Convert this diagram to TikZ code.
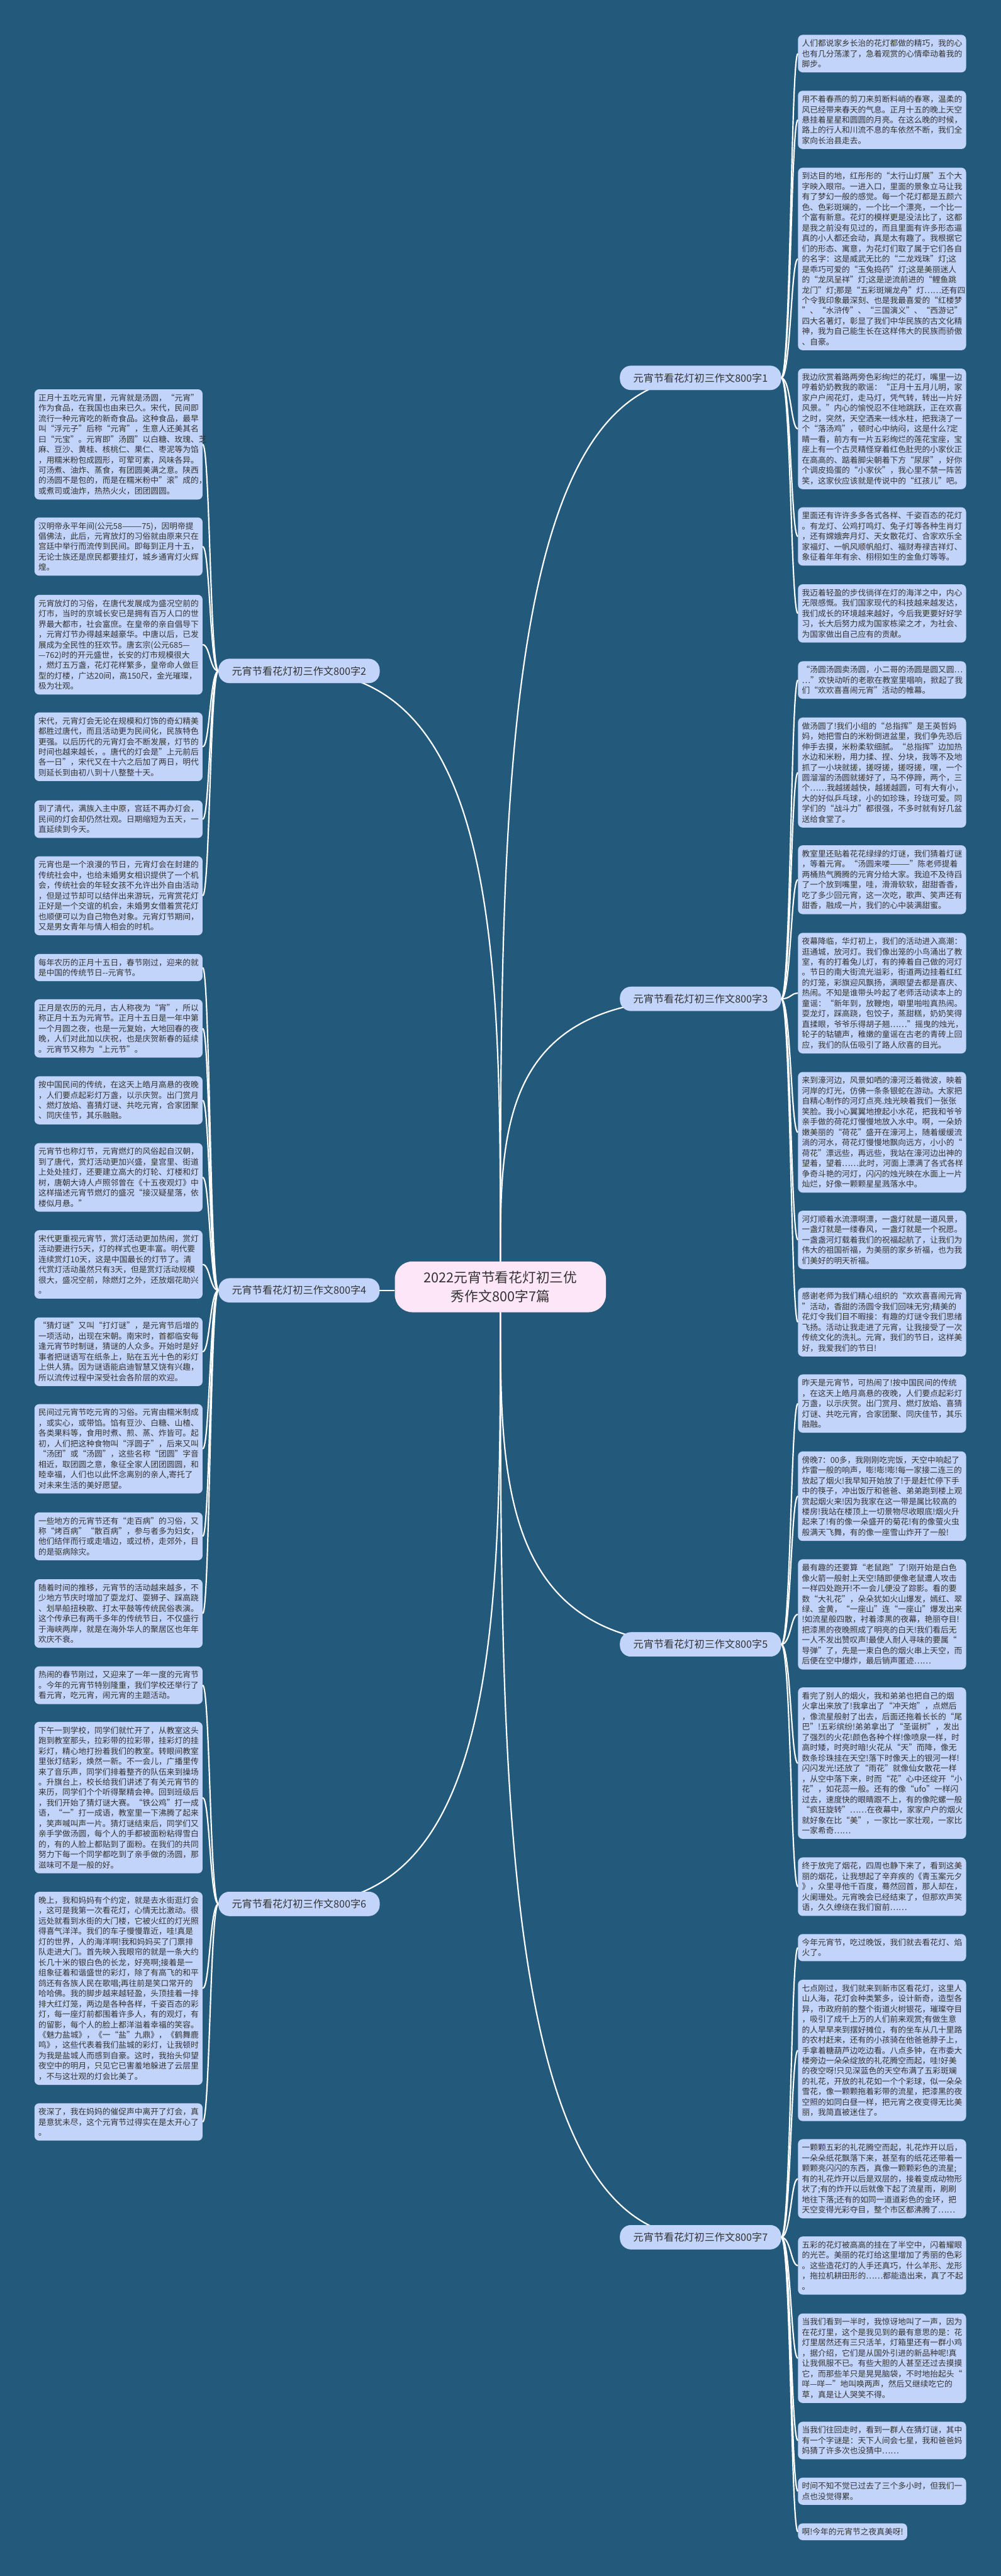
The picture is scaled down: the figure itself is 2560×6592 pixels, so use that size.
\documentclass[tikz,border=0pt]{standalone}
\usepackage{fontspec}
\setmainfont{Noto Sans CJK SC}
\usetikzlibrary{calc}
\definecolor{bgc}{HTML}{235A7C}
\definecolor{leafc}{HTML}{C2D4FA}
\definecolor{textc}{HTML}{333333}
\definecolor{centerc}{HTML}{FDE6F8}
\tikzset{
 leaf/.style={fill=leafc, rounded corners=12pt, inner xsep=10pt, inner ysep=12pt, text width=410pt, align=left, anchor=north west, text=textc, font=\fontsize{20.5}{26.5}\selectfont},
 shortleaf/.style={fill=leafc, rounded corners=12pt, inner xsep=10pt, inner ysep=12pt, anchor=north west, text=textc, font=\fontsize{20.5}{26.5}\selectfont},
 branch/.style={fill=leafc, rounded corners=28pt, minimum width=412pt, minimum height=62pt, text=textc, font=\fontsize{26}{30}\selectfont},
 centre/.style={fill=centerc, rounded corners=45pt, minimum width=540pt, minimum height=130pt, align=center, text=textc, font=\fontsize{35}{47}\selectfont},
 conn/.style={draw=white, line width=3.5pt}
}
\begin{document}
\begin{tikzpicture}[x=1pt,y=-1pt]
\useasboundingbox (0,0) rectangle (2560,6592);
\fill[bgc] (0,0) rectangle (2560,6592);
\coordinate (tR) at (2023,0);
\coordinate (tL) at (537,0);

\node[centre] (c) at (1280,3293) {2022元宵节看花灯初三优\\秀作文800字7篇};
\node[branch] (b1) at (1792,967) {元宵节看花灯初三作文800字1};
\node[branch] (b2) at (765,1717) {元宵节看花灯初三作文800字2};
\node[branch] (b3) at (1792,2556) {元宵节看花灯初三作文800字3};
\node[branch] (b4) at (765,3302) {元宵节看花灯初三作文800字4};
\node[branch] (b5) at (1792,4208) {元宵节看花灯初三作文800字5};
\node[branch] (b6) at (765,4872) {元宵节看花灯初三作文800字6};
\node[branch] (b7) at (1792,5725) {元宵节看花灯初三作文800字7};

% right leaves
\node[leaf] (r1) at (2041,89) {人们都说家乡长治的花灯都做的精巧，我的心\\也有几分荡漾了，急着观赏的心情牵动着我的\\脚步。};
\node[leaf] (r2) at (2041,232) {用不着春燕的剪刀来剪断料峭的春寒，温柔的\\风已经带来春天的气息。正月十五的晚上天空\\悬挂着星星和圆圆的月亮。在这么晚的时候，\\路上的行人和川流不息的车依然不断，我们全\\家向长治县走去。};
\node[leaf] (r3) at (2041,429) {到达目的地，红彤彤的“太行山灯展”五个大\\字映入眼帘。一进入口，里面的景象立马让我\\有了梦幻一般的感觉。每一个花灯都是五颜六\\色、色彩斑斓的，一个比一个漂亮，一个比一\\个富有新意。花灯的模样更是没法比了，这都\\是我之前没有见过的，而且里面有许多形态逼\\真的小人都还会动，真是太有趣了。我根据它\\们的形态、寓意，为花灯们取了属于它们各自\\的名字：这是威武无比的“二龙戏珠”灯;这\\是乖巧可爱的“玉兔捣药”灯;这是美丽迷人\\的“龙凤呈祥”灯;这是逆流前进的“鲤鱼跳\\龙门”灯;那是“五彩斑斓龙舟”灯……还有四\\个令我印象最深刻、也是我最喜爱的“红楼梦\\”、“水浒传”、“三国演义”、“西游记”\\四大名著灯，彰显了我们中华民族的古文化精\\神，我为自己能生长在这样伟大的民族而骄傲\\、自豪。};
\node[leaf] (r4) at (2041,943) {我边欣赏着路两旁色彩绚烂的花灯，嘴里一边\\哼着奶奶教我的歌谣：“正月十五月儿明，家\\家户户闹花灯，走马灯，凭气转，转出一片好\\风景。”内心的愉悦忍不住地跳跃，正在欢喜\\之时，突然，天空洒来一线水柱，把我浇了一\\个“落汤鸡”，顿时心中纳闷，这是什么?定\\睛一看，前方有一片五彩绚烂的莲花宝座，宝\\座上有一个古灵精怪穿着红色肚兜的小家伙正\\在高高的、踮着脚尖朝着下方“尿尿”，好你\\个调皮捣蛋的“小家伙”，我心里不禁一阵苦\\笑，这家伙应该就是传说中的“红孩儿”吧。};
\node[leaf] (r5) at (2041,1298) {里面还有许许多多各式各样、千姿百态的花灯\\。有龙灯、公鸡打鸣灯、兔子灯等各种生肖灯\\，还有嫦娥奔月灯、天女散花灯、合家欢乐全\\家福灯、一帆风顺帆船灯、福财寿禄吉祥灯、\\象征着年年有余、栩栩如生的金鱼灯等等。};
\node[leaf] (r6) at (2041,1495) {我迈着轻盈的步伐徜徉在灯的海洋之中，内心\\无限感慨。我们国家现代的科技越来越发达，\\我们成长的环境越来越好，今后我更要好好学\\习，长大后努力成为国家栋梁之才，为社会、\\为国家做出自己应有的贡献。};
\node[leaf] (r7) at (2041,1692) {“汤圆汤圆卖汤圆，小二哥的汤圆是圆又圆…\\…”欢快动听的老歌在教室里唱响，掀起了我\\们“欢欢喜喜闹元宵”活动的帷幕。};
\node[leaf] (r8) at (2041,1836) {做汤圆了!我们小组的“总指挥”是王英哲妈\\妈，她把雪白的米粉倒进盆里，我们争先恐后\\伸手去摸，米粉柔软细腻。“总指挥”边加热\\水边和米粉，用力揉、捏、分块，我等不及地\\抓了一小块就搓，搓呀搓，搓呀搓，嘿，一个\\圆溜溜的汤圆就搓好了，马不停蹄，两个，三\\个……我越搓越快，越搓越圆，可有大有小，\\大的好似乒乓球，小的如珍珠，玲珑可爱。同\\学们的“战斗力”都很强，不多时就有好几盆\\送给食堂了。};
\node[leaf] (r9) at (2041,2163) {教室里还贴着花花绿绿的灯谜，我们猜着灯谜\\，等着元宵。“汤圆来喽———”陈老师提着\\两桶热气腾腾的元宵分给大家。我迫不及待舀\\了一个放到嘴里，哇，滑滑软软，甜甜香香，\\吃了多少回元宵，这一次吃，歌声、笑声还有\\甜香，融成一片，我们的心中装满甜蜜。};
\node[leaf] (r10) at (2041,2387) {夜幕降临，华灯初上，我们的活动进入高潮：\\逛通城，放河灯。我们像出笼的小鸟涌出了教\\室，有的打着兔儿灯，有的捧着自己做的河灯\\。节日的南大街流光溢彩，街道两边挂着红红\\的灯笼，彩旗迎风飘扬，满眼望去都是喜庆、\\热闹。不知是谁带头吟起了老师活动读本上的\\童谣：“新年到，放鞭炮，噼里啪啦真热闹。\\耍龙灯，踩高跷，包饺子，蒸甜糕，奶奶笑得\\直揉眼，爷爷乐得胡子翘……”摇曳的烛光，\\轮子的轱辘声，稚嫩的童谣在古老的青砖上回\\应，我们的队伍吸引了路人欣喜的目光。};
\node[leaf] (r11) at (2041,2743) {来到濠河边，风景如哂的濠河泛着微波，映着\\河岸的灯光，仿佛一条条银蛇在游动。大家把\\自精心制作的河灯点亮.烛光映着我们一张张\\笑脸。我小心翼翼地撩起小水花，把我和爷爷\\亲手做的荷花灯慢慢地放入水中。啊，一朵娇\\嫩美丽的“荷花”盛开在濠河上，随着缓缓流\\淌的河水，荷花灯慢慢地飘向远方，小小的“\\荷花”漂远些，再远些，我站在濠河边出神的\\望着，望着……此时，河面上漂满了各式各样\\争奇斗艳的河灯，闪闪的烛光映在水面上一片\\灿烂，好像一颗颗星星溅落水中。};
\node[leaf] (r12) at (2041,3098) {河灯顺着水流漂啊漂，一盏灯就是一道风景，\\一盏灯就是一缕春风，一盏灯就是一个祝愿。\\一盏盏河灯载着我们的祝福起航了，让我们为\\伟大的祖国祈福，为美丽的家乡祈福，也为我\\们美好的明天祈福。};
\node[leaf] (r13) at (2041,3295) {感谢老师为我们精心组织的“欢欢喜喜闹元宵\\”活动，香甜的汤圆令我们回味无穷;精美的\\花灯令我们目不暇接：有趣的灯谜令我们思绪\\飞扬。活动让我走进了元宵，让我接受了一次\\传统文化的洗礼。元宵，我们的节日，这样美\\好，我爱我们的节日!};
\node[leaf] (r14) at (2041,3517) {昨天是元宵节，可热闹了!按中国民间的传统\\，在这天上皓月高悬的夜晚，人们要点起彩灯\\万盏，以示庆贺。出门赏月、燃灯放焰、喜猜\\灯谜、共吃元宵，合家团聚、同庆佳节，其乐\\融融。};
\node[leaf] (r15) at (2041,3714) {傍晚7：00多，我刚刚吃完饭，天空中响起了\\炸雷一般的响声，嘭!嘭!嘭!每一家接二连三的\\放起了烟火!我早知开始放了!于是赶忙停下手\\中的筷子，冲出饭厅和爸爸、弟弟跑到楼上观\\赏起烟火来!因为我家在这一带是属比较高的\\楼房!我站在楼顶上一切景物尽收眼底!烟火升\\起来了!有的像一朵盛开的菊花!有的像萤火虫\\般满天飞舞，有的像一座雪山炸开了一般!};
\node[leaf] (r16) at (2041,3990) {最有趣的还要算“老鼠跑”了!刚开始是白色\\像火箭一般射上天空!随即便像老鼠遭人攻击\\一样四处跑开!不一会儿便没了踪影。看的要\\数“大礼花”，朵朵犹如火山爆发，嫣红、翠\\绿、金黄，“一座山”连“一座山”爆发出来\\!如流星般四散，衬着漆黑的夜幕，艳丽夺目!\\把漆黑的夜晚照成了明亮的白天!我们看后无\\一人不发出赞叹声!最使人耐人寻味的要属“\\导弹”了，先是一束白色的烟火串上天空，而\\后便在空中爆炸，最后销声匿迹……};
\node[leaf] (r17) at (2041,4318) {看完了别人的烟火，我和弟弟也把自己的烟\\火拿出来放了!我拿出了“冲天炮”，点燃后\\，像流星般射了出去，后面还拖着长长的“尾\\巴”!五彩缤纷!弟弟拿出了“圣诞树”，发出\\了强烈的火花!颜色各种个样!像喷泉一样，时\\高时矮，时亮时暗!火花从“天”而降，像无\\数条珍珠挂在天空!落下时像天上的银河一样!\\闪闪发光!还放了“雨花”就像仙女散花一样\\，从空中落下来，时而“花”心中还绽开“小\\花”，如花蕊一般。还有的像“ufo”一样闪\\过去，速度快的眼睛跟不上，有的像陀螺一般\\“疯狂旋转”……在夜幕中，家家户户的烟火\\就好象在比“美”，一家比一家壮观，一家比\\一家希奇……};
\node[leaf] (r18) at (2041,4753) {终于放完了烟花，四周也静下来了，看到这美\\丽的烟花，让我想起了辛弃疾的《青玉案元夕\\》，众里寻他千百度，蓦然回首，那人却在，\\火阑珊处。元宵晚会已经结束了，但那欢声笑\\语，久久缭绕在我们窗前……};
\node[leaf] (r19) at (2041,4949) {今年元宵节，吃过晚饭，我们就去看花灯、焰\\火了。};
\node[leaf] (r20) at (2041,5066) {七点刚过，我们就来到新市区看花灯，这里人\\山人海，花灯会种类繁多，设计新奇，造型各\\异，市政府前的整个街道火树银花，璀璨夺目\\，吸引了成千上万的人们前来观赏;有做生意\\的人早早来到摆好摊位，有的坐车从几十里路\\的农村赶来，还有的小孩骑在他爸爸脖子上，\\手拿着糖葫芦边吃边看。八点多钟，在市委大\\楼旁边一朵朵绽放的礼花腾空而起，哇!好美\\的夜空呀!只见深蓝色的天空布满了五彩斑斓\\的礼花，开放的礼花如一个个彩球，似一朵朵\\雪花，像一颗颗拖着彩带的流星，把漆黑的夜\\空照的如同白昼一样，把元宵之夜变得无比美\\丽，我简直被迷住了。};
\node[leaf] (r21) at (2041,5474) {一颗颗五彩的礼花腾空而起，礼花炸开以后，\\一朵朵纸花飘落下来，甚至有的纸花还带着一\\颗颗亮闪闪的东西，真像一颗颗彩色的流星;\\有的礼花炸开以后是双层的，接着变成动物形\\状了;有的炸开以后就像下起了流星雨，刷刷\\地往下落;还有的如同一道道彩色的金环，把\\天空变得光彩夺目，整个市区都沸腾了……};
\node[leaf] (r22) at (2041,5723) {五彩的花灯被高高的挂在了半空中，闪着耀眼\\的光芒。美丽的花灯给这里增加了秀丽的色彩\\。这些造花灯的人手还真巧，什么羊形、龙形\\，拖拉机耕田形的……都能造出来，真了不起\\。};
\node[leaf] (r23) at (2041,5920) {当我们看到一半时，我惊讶地叫了一声，因为\\在花灯里，这个是我见到的最有意思的是：花\\灯里居然还有三只活羊，灯箱里还有一群小鸡\\，据介绍，它们是从国外引进的新品种呢!真\\让我佩服不已。有些大胆的人甚至还过去摸摸\\它，而那些羊只是晃晃脑袋，不时地抬起头“\\咩—咩—”地叫唤两声，然后又继续吃它的\\草，真是让人哭笑不得。};
\node[leaf] (r24) at (2041,6197) {当我们往回走时，看到一群人在猜灯谜，其中\\有一个字谜是：天下人间会七星，我和爸爸妈\\妈猜了许多次也没猜中……};
\node[leaf] (r25) at (2041,6340) {时间不知不觉已过去了三个多小时，但我们一\\点也没觉得累。};
\node[shortleaf] (r26) at (2041,6457) {啊!今年的元宵节之夜真美呀!};

% left leaves
\node[leaf] (l1) at (88,996) {正月十五吃元宵里，元宵就是汤圆，“元宵”\\作为食品，在我国也由来已久。宋代，民间即\\流行一种元宵吃的新奇食品。这种食品，最早\\叫“浮元子”后称“元宵”，生意人还美其名\\曰“元宝”。元宵即"汤圆"以白糖、玫瑰、芝\\麻、豆沙、黄桂、核桃仁、果仁、枣泥等为馅\\，用糯米粉包成圆形，可荤可素，风味各异。\\可汤煮、油炸、蒸食，有团圆美满之意。陕西\\的汤圆不是包的，而是在糯米粉中"滚"成的，\\或煮司或油炸，热热火火，团团圆圆。};
\node[leaf] (l2) at (88,1324) {汉明帝永平年间(公元58———75)，因明帝提\\倡佛法，此后，元宵放灯的习俗就由原来只在\\宫廷中举行而流传到民间。即每到正月十五，\\无论士族还是庶民都要挂灯，城乡通宵灯火辉\\煌。};
\node[leaf] (l3) at (88,1522) {元宵放灯的习俗，在唐代发展成为盛况空前的\\灯市，当时的京城长安已是拥有百万人口的世\\界最大都市，社会富庶。在皇帝的亲自倡导下\\，元宵灯节办得越来越豪华。中唐以后，已发\\展成为全民性的狂欢节。唐玄宗(公元685—\\—762)时的开元盛世，长安的灯市规模很大\\，燃灯五万盏，花灯花样繁多，皇帝命人做巨\\型的灯楼，广达20间，高150尺，金光璀璨，\\极为壮观。};
\node[leaf] (l4) at (88,1823) {宋代，元宵灯会无论在规模和灯饰的奇幻精美\\都胜过唐代，而且活动更为民间化，民族特色\\更强。以后历代的元宵灯会不断发展，灯节的\\时间也越来越长，。唐代的灯会是"上元前后\\各一日"，宋代又在十六之后加了两日，明代\\则延长到由初八到十八整整十天。};
\node[leaf] (l5) at (88,2048) {到了清代，满族入主中原，宫廷不再办灯会，\\民间的灯会却仍然壮观。日期缩短为五天，一\\直延续到今天。};
\node[leaf] (l6) at (88,2191) {元宵也是一个浪漫的节日，元宵灯会在封建的\\传统社会中，也给未婚男女相识提供了一个机\\会，传统社会的年轻女孩不允许出外自由活动\\，但是过节却可以结伴出来游玩，元宵赏花灯\\正好是一个交谊的机会，未婚男女借着赏花灯\\也顺便可以为自己物色对象。元宵灯节期间，\\又是男女青年与情人相会的时机。};
\node[leaf] (l7) at (88,2441) {每年农历的正月十五日，春节刚过，迎来的就\\是中国的传统节日-{}-元宵节。};
\node[leaf] (l8) at (88,2557) {正月是农历的元月，古人称夜为“宵”，所以\\称正月十五为元宵节。正月十五日是一年中第\\一个月圆之夜，也是一元复始，大地回春的夜\\晚，人们对此加以庆祝，也是庆贺新春的延续\\。元宵节又称为“上元节”。};
\node[leaf] (l9) at (88,2754) {按中国民间的传统，在这天上皓月高悬的夜晚\\，人们要点起彩灯万盏，以示庆贺。出门赏月\\、燃灯放焰、喜猜灯谜、共吃元宵，合家团聚\\、同庆佳节，其乐融融。};
\node[leaf] (l10) at (88,2925) {元宵节也称灯节，元宵燃灯的风俗起自汉朝，\\到了唐代，赏灯活动更加兴盛，皇宫里、街道\\上处处挂灯，还要建立高大的灯轮、灯楼和灯\\树，唐朝大诗人卢照邻曾在《十五夜观灯》中\\这样描述元宵节燃灯的盛况“接汉疑星落，依\\楼似月悬。”};
\node[leaf] (l11) at (88,3148) {宋代更重视元宵节，赏灯活动更加热闹，赏灯\\活动要进行5天，灯的样式也更丰富。明代要\\连续赏灯10天，这是中国最长的灯节了。清\\代赏灯活动虽然只有3天，但是赏灯活动规模\\很大，盛况空前，除燃灯之外，还放烟花助兴\\。};
\node[leaf] (l12) at (88,3371) {“猜灯谜”又叫“打灯谜”，是元宵节后增的\\一项活动，出现在宋朝。南宋时，首都临安每\\逢元宵节时制谜，猜谜的人众多。开始时是好\\事者把谜语写在纸条上，贴在五光十色的彩灯\\上供人猜。因为谜语能启迪智慧又饶有兴趣，\\所以流传过程中深受社会各阶层的欢迎。};
\node[leaf] (l13) at (88,3593) {民间过元宵节吃元宵的习俗。元宵由糯米制成\\，或实心，或带馅。馅有豆沙、白糖、山楂、\\各类果料等，食用时煮、煎、蒸、炸皆可。起\\初，人们把这种食物叫“浮圆子”，后来又叫\\“汤团”或“汤圆”，这些名称“团圆”字音\\相近，取团圆之意，象征全家人团团圆圆，和\\睦幸福，人们也以此怀念离别的亲人,寄托了\\对未来生活的美好愿望。};
\node[leaf] (l14) at (88,3870) {一些地方的元宵节还有“走百病”的习俗，又\\称“烤百病”“散百病”，参与者多为妇女，\\他们结伴而行或走墙边，或过桥，走郊外，目\\的是驱病除灾。};
\node[leaf] (l15) at (88,4041) {随着时间的推移，元宵节的活动越来越多，不\\少地方节庆时增加了耍龙灯、耍狮子、踩高跷\\、划旱船扭秧歌、打太平鼓等传统民俗表演。\\这个传承已有两千多年的传统节日，不仅盛行\\于海峡两岸，就是在海外华人的聚居区也年年\\欢庆不衰。};
\node[leaf] (l16) at (88,4264) {热闹的春节刚过，又迎来了一年一度的元宵节\\。今年的元宵节特别隆重，我们学校还举行了\\看元宵，吃元宵，闹元宵的主题活动。};
\node[leaf] (l17) at (88,4406) {下午一到学校，同学们就忙开了，从教室这头\\跑到教室那头，拉彩带的拉彩带，挂彩灯的挂\\彩灯，精心地打扮着我们的教室。转眼间教室\\里张灯结彩，焕然一新。不一会儿，广播里传\\来了音乐声，同学们排着整齐的队伍来到操场\\。升旗台上，校长给我们讲述了有关元宵节的\\来历，同学们个个听得聚精会神。回到班级后\\，我们开始了猜灯谜大赛。“铁公鸡”打一成\\语，“一”打一成语，教室里一下沸腾了起来\\，笑声喊叫声一片。猜灯谜结束后，同学们又\\亲手学做汤圆，每个人的手都被面粉粘得雪白\\的，有的人脸上都贴到了面粉。在我们的共同\\努力下每一个同学都吃到了亲手做的汤圆，那\\滋味可不是一般的好。};
\node[leaf] (l18) at (88,4841) {晚上，我和妈妈有个约定，就是去水街逛灯会\\，这可是我第一次看花灯，心情无比激动。很\\远处就看到水街的大门楼，它被火红的灯光照\\得喜气洋洋。我们的车子慢慢靠近，哇!真是\\灯的世界，人的海洋啊!我和妈妈买了门票排\\队走进大门。首先映入我眼帘的就是一条大约\\长几十米的银白色的长龙，好亮啊;接着是一\\组象征着和谐盛世的彩灯，除了有高飞的和平\\鸽还有各族人民在歌唱;再往前是笑口常开的\\哈哈佛。我的脚步越来越轻盈，头顶挂着一排\\排大红灯笼，两边是各种各样，千姿百态的彩\\灯，每一座灯前都围着许多人，有的观灯，有\\的留影，每个人的脸上都洋溢着幸福的笑容。\\《魅力盐城》，《一“盐”九鼎》，《鹤舞鹿\\鸣》，这些代表着我们盐城的彩灯，让我顿时\\为我是盐城人而感到自豪。这时，我抬头仰望\\夜空中的明月，只见它已害羞地躲进了云层里\\，不与这壮观的灯会比美了。};
\node[leaf] (l19) at (88,5382) {夜深了，我在妈妈的催促声中离开了灯会，真\\是意犹未尽，这个元宵节过得实在是太开心了\\。};

% connectors centre -> branches
\foreach \b in {b1,b2,b3}
  \draw[conn] (c.north) .. controls ($(c.north)!0.5!(c.north |- \b.center)$) and (c.north |- \b.center) .. (\b.center);
\foreach \b in {b5,b6,b7}
  \draw[conn] (c.south) .. controls ($(c.south)!0.5!(c.south |- \b.center)$) and (c.south |- \b.center) .. (\b.center);
\draw[conn] (b4.east) -- (b4.east -| c.west);

% branch -> leaves (right)
\foreach \l in {r1,r2,r3,r4,r5,r6}
  \draw[conn] (b1.east) .. controls (b1.east -| tR) and (\l.west -| tR) .. (\l.west);
\foreach \l in {r7,r8,r9,r10,r11,r12,r13}
  \draw[conn] (b3.east) .. controls (b3.east -| tR) and (\l.west -| tR) .. (\l.west);
\foreach \l in {r14,r15,r16,r17,r18}
  \draw[conn] (b5.east) .. controls (b5.east -| tR) and (\l.west -| tR) .. (\l.west);
\foreach \l in {r19,r20,r21,r22,r23,r24,r25,r26}
  \draw[conn] (b7.east) .. controls (b7.east -| tR) and (\l.west -| tR) .. (\l.west);
% branch -> leaves (left)
\foreach \l in {l1,l2,l3,l4,l5,l6}
  \draw[conn] (b2.west) .. controls (b2.west -| tL) and (\l.east -| tL) .. (\l.east);
\foreach \l in {l7,l8,l9,l10,l11,l12,l13,l14,l15}
  \draw[conn] (b4.west) .. controls (b4.west -| tL) and (\l.east -| tL) .. (\l.east);
\foreach \l in {l16,l17,l18,l19}
  \draw[conn] (b6.west) .. controls (b6.west -| tL) and (\l.east -| tL) .. (\l.east);

% redraw branch nodes on top of centre connectors
\node[branch] at (b1.center) {元宵节看花灯初三作文800字1};
\node[branch] at (b2.center) {元宵节看花灯初三作文800字2};
\node[branch] at (b3.center) {元宵节看花灯初三作文800字3};
\node[branch] at (b5.center) {元宵节看花灯初三作文800字5};
\node[branch] at (b6.center) {元宵节看花灯初三作文800字6};
\node[branch] at (b7.center) {元宵节看花灯初三作文800字7};
\end{tikzpicture}
\end{document}
